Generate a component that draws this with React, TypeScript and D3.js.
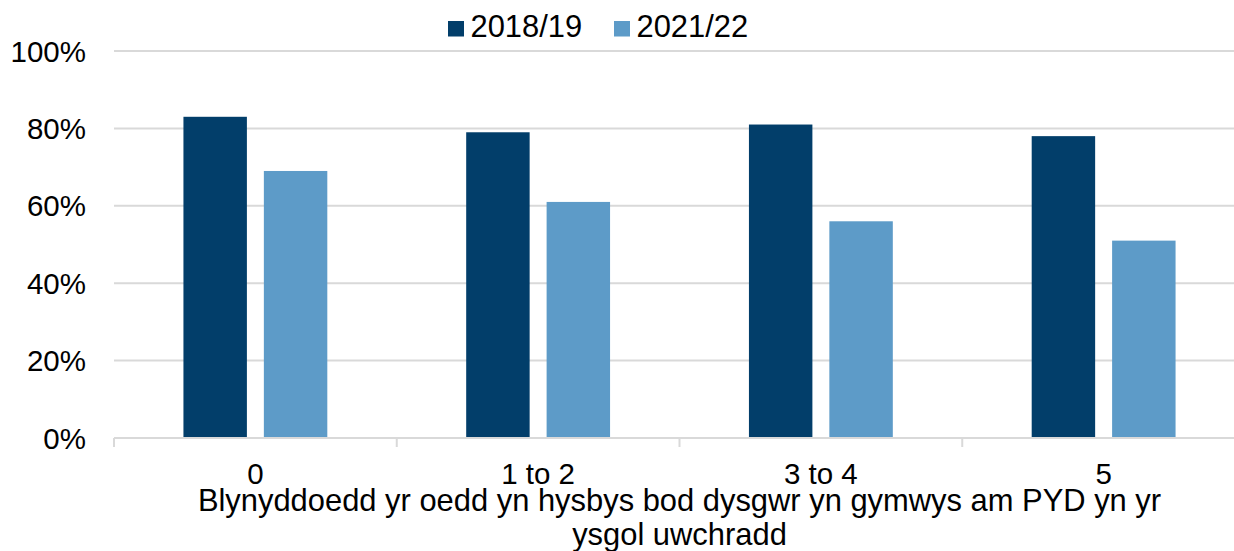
import React, { useEffect, useRef } from "react";
import * as d3 from "d3";

// Chart data
const categories = ["0", "1 to 2", "3 to 4", "5"];
const seriesNames = ["2018/19", "2021/22"];
const values2018 = [0.83, 0.79, 0.81, 0.78];
const values2021 = [0.69, 0.61, 0.56, 0.51];
const yTicks = [0, 0.2, 0.4, 0.6, 0.8, 1];
const axisTitle = [
  "Blynyddoedd yr oedd yn hysbys bod dysgwr yn gymwys am PYD yn yr",
  "ysgol uwchradd",
];

const colors = ["#023e6a", "#5d9bc8"];
const FONT = "'Liberation Sans', Arial, sans-serif";

const App: React.FC = () => {
  const svgRef = useRef<SVGSVGElement | null>(null);

  useEffect(() => {
    const svg = d3.select(svgRef.current);
    svg.selectAll("*").remove();

    const left = 114;
    const right = 1245;
    const top = 51;
    const bottom = 438;

    const x0 = d3.scaleBand<string>().domain(categories).range([left, right]);
    const x1 = d3
      .scaleBand<string>()
      .domain(seriesNames)
      .range([0, x0.bandwidth()])
      .paddingInner(0.211)
      .paddingOuter(0.8635);
    const y = d3.scaleLinear().domain([0, 1]).range([bottom, top]);

    const rows = categories.map((c, i) => ({
      cat: c,
      vals: [values2018[i], values2021[i]],
    }));

    // gridlines
    svg
      .append("g")
      .selectAll("line")
      .data(yTicks.filter((t) => t > 0))
      .join("line")
      .attr("x1", left)
      .attr("x2", right)
      .attr("y1", (d) => y(d))
      .attr("y2", (d) => y(d))
      .attr("stroke", "#d9d9d9")
      .attr("stroke-width", 2);

    // y tick labels
    svg
      .append("g")
      .selectAll("text")
      .data(yTicks)
      .join("text")
      .attr("x", 86)
      .attr("y", (d) => y(d) + 10.5)
      .attr("text-anchor", "end")
      .attr("font-family", FONT)
      .attr("font-size", 29.5)
      .attr("fill", "#000")
      .text((d) => d3.format(".0%")(d));

    // bars
    const groups = svg
      .append("g")
      .selectAll("g")
      .data(rows)
      .join("g")
      .attr("transform", (d) => `translate(${x0(d.cat)},0)`);

    groups
      .selectAll("rect")
      .data((d) => d.vals.map((v, i) => ({ key: seriesNames[i], v, i })))
      .join("rect")
      .attr("x", (d) => x1(d.key)!)
      .attr("width", x1.bandwidth())
      .attr("y", (d) => y(d.v))
      .attr("height", (d) => bottom - y(d.v))
      .attr("fill", (d) => colors[d.i]);

    // x axis line and ticks
    svg
      .append("line")
      .attr("x1", left)
      .attr("x2", right)
      .attr("y1", bottom)
      .attr("y2", bottom)
      .attr("stroke", "#d9d9d9")
      .attr("stroke-width", 2);

    const tickPos = categories.map((c) => x0(c)!).concat([right]);
    svg
      .append("g")
      .selectAll("line")
      .data(tickPos)
      .join("line")
      .attr("x1", (d) => d)
      .attr("x2", (d) => d)
      .attr("y1", bottom)
      .attr("y2", bottom + 9)
      .attr("stroke", "#d9d9d9")
      .attr("stroke-width", 2);

    // category labels
    svg
      .append("g")
      .selectAll("text")
      .data(categories)
      .join("text")
      .attr("x", (d) => x0(d)! + x0.bandwidth() / 2)
      .attr("y", 484)
      .attr("text-anchor", "middle")
      .attr("font-family", FONT)
      .attr("font-size", 29.5)
      .attr("fill", "#000")
      .text((d) => d);

    // axis title
    svg
      .append("g")
      .selectAll("text")
      .data(axisTitle)
      .join("text")
      .attr("x", (left + right) / 2)
      .attr("y", (d, i) => 511 + i * 34)
      .attr("text-anchor", "middle")
      .attr("font-family", FONT)
      .attr("font-size", 30.9)
      .attr("fill", "#000")
      .text((d) => d);

    // legend
    const legendX = [448, 614];
    const legend = svg
      .append("g")
      .selectAll("g")
      .data(seriesNames)
      .join("g")
      .attr("transform", (d, i) => `translate(${legendX[i]},0)`);
    legend
      .append("rect")
      .attr("x", 0)
      .attr("y", 21)
      .attr("width", 16)
      .attr("height", 15.5)
      .attr("fill", (d, i) => colors[i]);
    legend
      .append("text")
      .attr("x", 22.5)
      .attr("y", 37)
      .attr("font-family", FONT)
      .attr("font-size", 30.9)
      .attr("fill", "#000")
      .text((d) => d);
  }, []);

  return (
    <svg
      ref={svgRef}
      width={1234}
      height={551}
      style={{ position: "fixed", left: 0, top: 0, background: "#fff" }}
    ></svg>
  );
};

export default App;
